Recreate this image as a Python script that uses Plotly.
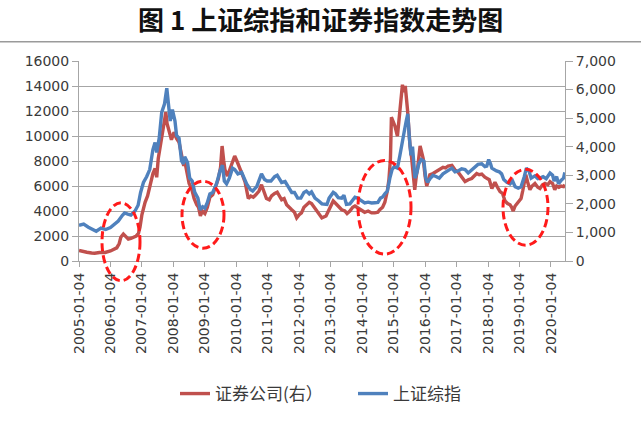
import datetime as dt
import plotly.graph_objects as go

# ---- data (decimal-year positions, index levels) ----
sh_t = [2005.00, 2005.15, 2005.30, 2005.45, 2005.55, 2005.70, 2005.85, 2006.00, 2006.15, 2006.25,
        2006.38, 2006.45, 2006.55, 2006.65, 2006.78, 2006.88, 2006.96, 2007.05, 2007.15, 2007.25,
        2007.35, 2007.42, 2007.47, 2007.55, 2007.63, 2007.72, 2007.79, 2007.85, 2007.90, 2007.97,
        2008.05, 2008.10, 2008.18, 2008.26, 2008.32, 2008.36, 2008.45, 2008.52, 2008.60, 2008.68,
        2008.78, 2008.85, 2008.93, 2009.00, 2009.08, 2009.16, 2009.25, 2009.37, 2009.48, 2009.56,
        2009.62, 2009.69, 2009.78, 2009.88, 2009.95, 2010.05, 2010.17, 2010.33, 2010.45, 2010.52,
        2010.65, 2010.80, 2010.90, 2010.98, 2011.10, 2011.22, 2011.30, 2011.44, 2011.55, 2011.65,
        2011.76, 2011.85, 2011.95, 2012.05, 2012.15, 2012.23, 2012.32, 2012.39, 2012.50, 2012.62,
        2012.72, 2012.88, 2012.95, 2013.08, 2013.15, 2013.24, 2013.35, 2013.42, 2013.50, 2013.61,
        2013.70, 2013.77, 2013.85, 2013.98, 2014.08, 2014.19, 2014.30, 2014.40, 2014.50, 2014.58,
        2014.65, 2014.72, 2014.80, 2014.88, 2014.95, 2015.02, 2015.12, 2015.20, 2015.27, 2015.33,
        2015.40, 2015.45, 2015.50, 2015.55, 2015.60, 2015.64, 2015.68, 2015.74, 2015.80, 2015.88,
        2015.96, 2016.02, 2016.08, 2016.15, 2016.25, 2016.36, 2016.45, 2016.57, 2016.73, 2016.85,
        2016.95, 2017.05, 2017.16, 2017.27, 2017.37, 2017.45, 2017.58, 2017.68, 2017.80, 2017.90,
        2017.96, 2018.02, 2018.08, 2018.12, 2018.27, 2018.36, 2018.43, 2018.50, 2018.60, 2018.70,
        2018.78, 2018.86, 2018.96, 2019.05, 2019.15, 2019.22, 2019.30, 2019.37, 2019.49, 2019.58,
        2019.65, 2019.75, 2019.85, 2019.97, 2020.05, 2020.10, 2020.18, 2020.24, 2020.32, 2020.40,
        2020.44]
sh_v = [1250, 1290, 1180, 1080, 1040, 1150, 1100, 1170, 1290, 1400,
        1600, 1680, 1640, 1610, 1750, 1950, 2400, 2750, 2950, 3200,
        3900, 4150, 3800, 4300, 5200, 5500, 6050, 5300, 4900, 5300,
        4900, 4400, 4300, 3500, 3400, 3650, 3450, 2900, 2800, 2400,
        2200, 1800, 1900, 1850, 2050, 2350, 2400, 2700, 3150, 3350,
        2800, 2700, 2900, 3250, 3200, 3050, 3100, 2700, 2500, 2450,
        2600, 3050, 2850, 2800, 2800, 2950, 3000, 2750, 2780, 2600,
        2400, 2400, 2200, 2200, 2400, 2450, 2350, 2420, 2200, 2100,
        2000, 1980, 2200, 2400, 2350, 2220, 2200, 2300, 1980, 2000,
        2150, 2230, 2200, 2120, 2030, 2060, 2030, 2040, 2050, 2200,
        2240, 2350, 2450, 2900, 3200, 3300, 3250, 3700, 4200, 4500,
        4900, 5150, 4300, 3700, 4000, 3500, 2900, 3100, 3400, 3550,
        3500, 2900, 2750, 2870, 3000, 2950, 2900, 3050, 3150, 3250,
        3120, 3150, 3230, 3200, 3080, 3150, 3270, 3380, 3400, 3300,
        3320, 3550, 3400, 3250, 3150, 3120, 3050, 2850, 2750, 2700,
        2800, 2600, 2550, 2600, 2950, 3250, 3150, 2900, 2980, 2880,
        2900, 2950, 2880, 3080, 3000, 2800, 2950, 2700, 2820, 2900,
        3100]

sec_t = [2005.00, 2005.10, 2005.25, 2005.40, 2005.50, 2005.65, 2005.83, 2006.00, 2006.10, 2006.20,
         2006.28, 2006.33, 2006.41, 2006.50, 2006.57, 2006.65, 2006.73, 2006.82, 2006.89, 2006.94,
         2007.00, 2007.10, 2007.18, 2007.26, 2007.35, 2007.42, 2007.47, 2007.52, 2007.60, 2007.65,
         2007.72, 2007.76, 2007.80, 2007.88, 2007.94, 2008.02, 2008.10, 2008.18, 2008.26, 2008.33,
         2008.36, 2008.42, 2008.50, 2008.58, 2008.66, 2008.74, 2008.80, 2008.86, 2008.92, 2009.00,
         2009.08, 2009.16, 2009.25, 2009.32, 2009.43, 2009.50, 2009.55, 2009.60, 2009.64, 2009.72,
         2009.80, 2009.87, 2009.95, 2010.02, 2010.10, 2010.18, 2010.28, 2010.38, 2010.46, 2010.54,
         2010.62, 2010.72, 2010.80, 2010.88, 2010.96, 2011.05, 2011.12, 2011.22, 2011.30, 2011.44,
         2011.52, 2011.60, 2011.70, 2011.76, 2011.85, 2011.92, 2012.00, 2012.07, 2012.15, 2012.23,
         2012.32, 2012.39, 2012.47, 2012.55, 2012.65, 2012.72, 2012.85, 2012.92, 2013.02, 2013.08,
         2013.16, 2013.24, 2013.35, 2013.45, 2013.52, 2013.61, 2013.70, 2013.77, 2013.88, 2013.98,
         2014.08, 2014.19, 2014.30, 2014.40, 2014.50, 2014.56, 2014.65, 2014.72, 2014.80, 2014.85,
         2014.90, 2014.93, 2014.97, 2015.04, 2015.12, 2015.20, 2015.25, 2015.28, 2015.33, 2015.37,
         2015.44, 2015.48, 2015.52, 2015.57, 2015.60, 2015.64, 2015.67, 2015.72, 2015.76, 2015.84,
         2015.90, 2015.94, 2016.00, 2016.05, 2016.10, 2016.15, 2016.25, 2016.36, 2016.45, 2016.57,
         2016.65, 2016.73, 2016.85, 2016.95, 2017.05, 2017.15, 2017.27, 2017.37, 2017.48, 2017.56,
         2017.64, 2017.72, 2017.80, 2017.90, 2017.96, 2018.04, 2018.12, 2018.22, 2018.30, 2018.38,
         2018.46, 2018.54, 2018.62, 2018.70, 2018.75, 2018.80, 2018.86, 2018.96, 2019.05, 2019.10,
         2019.16, 2019.20, 2019.26, 2019.33, 2019.40, 2019.49, 2019.58, 2019.65, 2019.73, 2019.81,
         2019.90, 2019.97, 2020.05, 2020.12, 2020.18, 2020.25, 2020.32, 2020.40, 2020.44]
sec_v = [850, 780, 700, 640, 620, 680, 680, 800, 900, 1050,
         1400, 1900, 2150, 1900, 1750, 1800, 1900, 2000, 2200, 2700,
         3700, 4700, 5200, 6000, 7000, 7400, 6700, 8200, 9500, 10300,
         11200, 11900, 11000, 10200, 9700, 10300, 9800, 9500, 8400, 7600,
         8000, 7300, 6200, 5800, 5000, 4500, 4300, 3600, 4000, 3800,
         4300, 5100, 5300, 5800, 6600, 7500, 9200, 8000, 7300, 6800,
         7400, 8000, 8400, 8000, 7400, 7000, 6300, 5000, 5200, 5100,
         5300, 5600, 6100, 5500, 5000, 4900, 5200, 5400, 5500, 4900,
         5000, 4500, 4300, 4100, 3900, 3450, 3700, 3850, 4300, 4500,
         4700, 4600, 4300, 4100, 3700, 3450, 3600, 4000, 4500, 4800,
         4600, 4350, 4100, 4000, 3800, 4000, 4300, 4400, 4200, 4100,
         3900, 4000, 3850, 3850, 3900, 4100, 4300, 4700, 5600, 6500,
         8200, 11500, 11200, 10800, 10000, 11800, 13000, 14100, 13500, 14000,
         12100, 10500, 9200, 8300, 7400, 6500, 5700, 6800, 7400, 9200,
         8500, 8200, 6800, 6000, 6400, 6900, 7000, 7200, 7300, 7500,
         7450, 7600, 7650, 7300, 7100, 6800, 6350, 6500, 6600, 6800,
         7000, 6900, 6950, 6700, 6600, 6500, 5800, 6300, 5900, 5550,
         5400, 4800, 4600, 4500, 4300, 4000, 4400, 4700, 5000, 5600,
         6600, 6900, 6300, 5700, 6000, 6200, 5900, 5800, 6100, 6200,
         6100, 6350, 6200, 5700, 6000, 5900, 6000, 5950, 6100]

tick_years = list(range(2005, 2021))
tick_labels = [f"{y}-01-04" for y in tick_years]

title_text = "图 1 上证综指和证券指数走势图"
name_sec = "证券公司(右）"
name_sh = "上证综指"

# ---- helpers ----
BASE = dt.date(2005, 1, 4)


def to_date(t):
    return (BASE + dt.timedelta(days=(t - 2005) * 365.25)).isoformat()


sh_x = [to_date(t) for t in sh_t]
sec_x = [to_date(t) for t in sec_t]
tick_vals = [dt.date(y, 1, 4).isoformat() for y in tick_years]

FONT = "DejaVu Sans"
CJK = "Noto Sans CJK SC"
TXT = "#3a3a3a"
GRID = "#a6a6a6"

fig = go.Figure()
fig.add_trace(go.Scatter(x=sec_x, y=sec_v, name=name_sec, mode="lines",
                         line=dict(color="#C0504D", width=3.4), yaxis="y"))
fig.add_trace(go.Scatter(x=sh_x, y=sh_v, name=name_sh, mode="lines",
                         line=dict(color="#4F81BD", width=3.4), yaxis="y2"))

# plot area in pixels: x 79..565, y 61..264
L, R, T, B = 79, 565, 61, 264
W, H = 641, 424
pw, ph = R - L, B - T


def px(xp):
    return (xp - L) / pw


def py(yp):
    return (B - yp) / ph


ellipses = [(102, 140, 205, 284), (182, 224, 183, 251), (358, 411, 162, 257), (503, 548, 171, 248)]
shapes = []
for x0, x1, y0, y1 in ellipses:
    shapes.append(dict(type="circle", xref="paper", yref="paper",
                       x0=px(x0), x1=px(x1), y0=py(y1), y1=py(y0),
                       line=dict(color="#FF1A1A", width=3, dash="8px,4px"), layer="above"))
shapes.append(dict(type="line", xref="paper", yref="paper", x0=px(0), x1=px(W),
                   y0=py(41.5), y1=py(41.5), line=dict(color="#9a9a9a", width=1.5)))

fig.add_annotation(text=title_text, xref="paper", yref="paper", x=px(W / 2), y=py(18),
                   xanchor="center", yanchor="middle", showarrow=False,
                   font=dict(family=CJK, size=26, color="#111111", weight="bold"))

fig.update_layout(
    width=W, height=H,
    margin=dict(l=L, r=W - R, t=T, b=H - B),
    paper_bgcolor="white", plot_bgcolor="white",
    xaxis=dict(type="date", range=[to_date(2005.0), to_date(2020.445)],
               tickvals=tick_vals, ticktext=tick_labels, tickangle=-90,
               ticks="outside", ticklen=5, tickcolor=GRID, showline=True, linecolor=GRID,
               showgrid=False, zeroline=False, tickfont=dict(family=FONT, size=14, color=TXT)),
    yaxis=dict(range=[0, 16000], dtick=2000, tickformat="d", showgrid=True, gridcolor=GRID,
               gridwidth=1, showline=True, linecolor=GRID, ticks="outside", ticklen=6,
               tickcolor=GRID, zeroline=False, tickfont=dict(family=FONT, size=14, color=TXT)),
    yaxis2=dict(range=[0, 7000], dtick=1000, tickformat=",d", overlaying="y", side="right",
                showgrid=False, showline=True, linecolor=GRID, ticks="outside", ticklen=7,
                tickcolor=GRID, zeroline=False, tickfont=dict(family=FONT, size=14, color=TXT)),
    legend=dict(orientation="h", x=px(175), xanchor="left", y=py(399), yanchor="middle",
                font=dict(family=CJK, size=17, color=TXT), bgcolor="rgba(0,0,0,0)",
                itemwidth=30, tracegroupgap=0, entrywidth=133, entrywidthmode="pixels"),
    shapes=shapes,
    showlegend=True,
)

fig.write_html("out.html")
